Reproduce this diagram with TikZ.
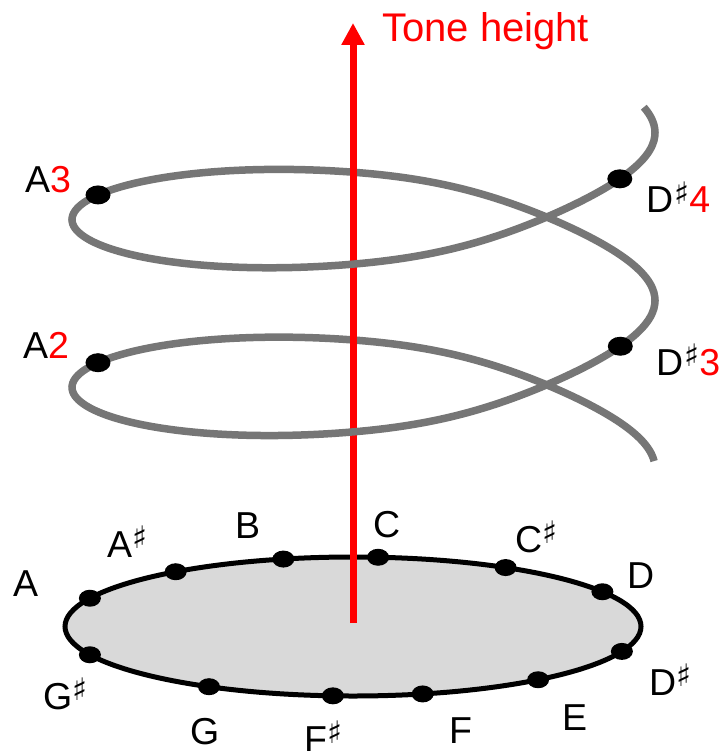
\documentclass[tikz,border=0pt]{standalone}
\usepackage{fontspec}
\setmainfont{Liberation Sans}
\newfontfamily\symfont{DejaVu Sans}
\usetikzlibrary{arrows.meta,shapes.geometric}
\newcommand{\shp}{\raisebox{9pt}{\fontsize{31}{31}\symfont ♯}}
\definecolor{tube}{RGB}{118,118,118}
\definecolor{tubelight}{RGB}{150,150,150}
\definecolor{basefill}{RGB}{217,217,217}
\definecolor{axisred}{RGB}{255,0,0}
\begin{document}
\begin{tikzpicture}[x=1pt,y=-1pt,
  declare function={hu(\t)=cos(\t r)-0.27*max(cos(\t r),0)^2*(1-cos(\t r)^2);
                    hx(\t)=363.5+291.5*hu(\t); hy(\t)=302-26.7*\t-87*sin(\t r)-1.5*cos(\t r);
                    ex(\a)=353+288*cos(\a); ey(\a)=626.5-69.5*sin(\a);},
  lbl/.style={font=\fontsize{37.5}{40}\selectfont, inner sep=0pt, anchor=base west},
  tubeline/.style={draw=tube, line width=7.5pt, line cap=round},
  tubeend/.style={draw=tube, line width=7.5pt, line cap=butt},
  basedot/.style={ellipse, fill=black, inner sep=0pt, minimum width=22pt, minimum height=17pt},
  helixdot/.style={ellipse, fill=black, inner sep=0pt, minimum width=25pt, minimum height=19pt},
  axisarrow/.style={draw=axisred, line width=7pt, -{Triangle[width=22pt,length=22pt]}},
  baseellipse/.style={draw=black, fill=basefill, line width=5pt}]
\useasboundingbox[fill=white] (0,0) rectangle (725,751);

% base disk
\coordinate (basectr) at (353,626.5);
\draw[baseellipse] (basectr) ellipse [x radius=288, y radius=69.5];

% helix back strands
\draw[tubeend] plot[domain=-6.22:-3.14159, samples=90, smooth, variable=\t] ({hx(\t)},{hy(\t)});
\draw[tubeline] plot[domain=0:3.14159, samples=90, smooth, variable=\t] ({hx(\t)},{hy(\t)});
\draw[tubeend] plot[domain=6.28319:6.51, samples=20, smooth, variable=\t] ({hx(\t)},{hy(\t)});

% axis
\coordinate (axisbottom) at (353,623);
\coordinate (axistop) at (353,23);
\draw[axisarrow] (axisbottom) -- (axistop);
\node[lbl, text=axisred, font=\fontsize{40}{42}\selectfont] (tone) at (382,42) {Tone height};

% helix front strands
\draw[tubeline] plot[domain=-3.14159:0, samples=90, smooth, variable=\t] ({hx(\t)},{hy(\t)});
\draw[tubeline] plot[domain=3.14159:6.28319, samples=90, smooth, variable=\t] ({hx(\t)},{hy(\t)});

% helix dots
\node[helixdot] (a3) at ({hx(2.716)},{hy(2.716)}) {};
\node[helixdot] (ds4) at ({hx(5.87)},{hy(5.87)}) {};
\node[helixdot] (a2) at ({hx(-3.567)},{hy(-3.567)}) {};
\node[helixdot] (ds3) at ({hx(-0.41)},{hy(-0.41)}) {};

\node[lbl] (la3) at (25,193) {A{\color{axisred}3}};
\node[lbl] (la2) at (23,358) {A{\color{axisred}2}};
\node[lbl] (lds4) at (646,213) {D\kern1pt\shp{\color{axisred}4}};
\node[lbl] (lds3) at (656,375) {D\kern1pt\shp{\color{axisred}3}};

% base dots
\node[basedot] (nC)  at ({ex(85)},{ey(85)}) {};
\node[basedot] (nCs) at ({ex(58)},{ey(58)}) {};
\node[basedot] (nD)  at ({ex(30)},{ey(30)}) {};
\node[basedot] (nDs) at ({ex(-21)},{ey(-21)}) {};
\node[basedot] (nE)  at ({ex(-50)},{ey(-50)}) {};
\node[basedot] (nF)  at ({ex(-76)},{ey(-76)}) {};
\node[basedot] (nFs) at ({ex(-94)},{ey(-94)}) {};
\node[basedot] (nG)  at ({ex(-120)},{ey(-120)}) {};
\node[basedot] (nGs) at ({ex(-156)},{ey(-156)}) {};
\node[basedot] (nA)  at ({ex(156)},{ey(156)}) {};
\node[basedot] (nAs) at ({ex(128)},{ey(128)}) {};
\node[basedot] (nB)  at ({ex(104)},{ey(104)}) {};

% base labels
\node[lbl] (lA)  at (13,596) {A};
\node[lbl] (lAs) at (107,557) {A\shp};
\node[lbl] (lB)  at (235,538) {B};
\node[lbl] (lC)  at (373,537) {C};
\node[lbl] (lCs) at (515,552) {C\shp};
\node[lbl] (lD)  at (627,588) {D};
\node[lbl] (lDs) at (649,695) {D\shp};
\node[lbl] (lE)  at (562,730) {E};
\node[lbl] (lF)  at (449,743) {F};
\node[lbl] (lFs) at (304,752) {F\shp};
\node[lbl] (lG)  at (190,744) {G};
\node[lbl] (lGs) at (43,709) {G\shp};
\end{tikzpicture}
\end{document}
